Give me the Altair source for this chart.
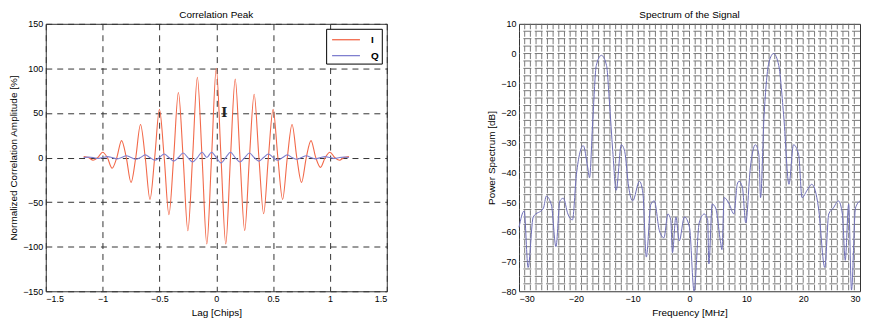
import altair as alt
import pandas as pd

# ---------------- Left panel data ----------------
lag = [k / 24 for k in range(-28, 29)]
i_vals = [1, 0, -3, 0, 6, 0, -12, 0, 19, 0, -28, 0, 37, 0, -47, 0, 54, 0, -64, 0,
          73, 0, -82, 0, 90, 0, -97, 0, 100, 0, -97, 0, 88, 0, -82, 0, 71, 0, -63, 0,
          54, 0, -47, 0, 37, 0, -28, 0, 19, 0, -11, 0, 6, 0, -3, 0, 1]
q_vals = [0, 0.5, 0, -1, 0, 1, 0, -1.5, 0, 2, 0, -2, 0, 3, 0, -3, 0, 4, 0, -4,
          0, 5, 0, -5, 0, 6, 0, 6, 0, -6, 0, 6, 0, -5, 0, 5, 0, -4, 0, 4,
          0, -3, 0, 3, 0, -2, 0, 2, 0, -1.5, 0, 1, 0, -1, 0, 0.5, 0]

series_names = ["I", "Q"]
series_colors = ["#f2694a", "#7f7fcf"]

# ---------------- Right panel data ----------------
freq = [-30, -29.1, -28.4, -27.5, -25.7, -25.2, -24.3, -23.5, -22.8, -22.2, -21.4, -20.6,
        -19.9, -18.7, -17.9, -17.6, -17.0, -16.4, -15.5, -14.6, -14.1, -13.5, -12.9,
        -12.0, -11.4, -10.7, -10.0, -8.8, -8.2, -7.6, -6.8, -6.2, -5.3, -4.5, -3.8, -3.3,
        -3.0, -2.4, -1.8, -0.9, 0.0, 0.8, 1.7, 2.6, 3.2, 3.4, 4.0, 4.6, 5.5, 5.7, 6.1,
        7.0, 7.8, 8.4, 8.7, 9.3, 9.9, 10.7, 11.6, 12.2, 12.5, 13.1, 14.0, 14.8, 15.7,
        16.6, 17.5, 18.3, 19.2, 19.8, 20.7, 21.5, 22.1, 22.7, 23.8, 24.5, 25.3, 26.2,
        26.9, 27.4, 28.0, 28.5, 29.2, 30]
power = [-58.5, -53, -72, -55, -52, -48, -51, -65, -49.6, -48.7, -54, -56,
         -40.7, -31, -38.5, -41.8, -21.7, -4, -0.6, -4, -16, -33, -46,
         -30.7, -33, -45, -49.6, -43, -47, -68.5, -50.7, -49.6, -59.6, -62, -54, -56,
         -67, -55, -63, -55, -58.5, -80, -57, -54, -56, -70.8, -50.7, -52, -64, -66, -48.5,
         -50.7, -54, -44, -43, -45, -57, -38.5, -30.7, -34, -48.5, -21.7, -2.8, 0, -4,
         -21.7, -44, -30.7, -34, -48.5, -46, -44, -46, -52, -72, -54, -52, -49.6,
         -54, -69.6, -50.7, -79.6, -52, -49.6]

freq_ticks = [-30, -20, -10, 0, 10, 20, 30]
power_ticks = [-80, -70, -60, -50, -40, -30, -20, -10, 0, 10]
grid_x_fine = [v for v in range(-29, 30)]
grid_y_fine = [v * 2.5 for v in range(-31, 4)]

FONT = "Liberation Sans"

# ---------------- Left panel ----------------
corr_df = pd.DataFrame({
    "lag": lag * 2,
    "amp": i_vals + q_vals,
    "series": ["I"] * len(lag) + ["Q"] * len(lag),
})

x_left = alt.X("lag:Q", scale=alt.Scale(domain=[-1.5, 1.5], nice=False),
               axis=alt.Axis(values=[-1.5, -1, -0.5, 0, 0.5, 1, 1.5], title="Lag [Chips]",
                             format="~g", grid=True, gridDash=[6, 5], gridColor="#333333",
                             gridOpacity=1, gridWidth=1, ticks=False, domain=False,
                             labelOverlap=False))
y_left = alt.Y("amp:Q", scale=alt.Scale(domain=[-150, 150], nice=False),
               axis=alt.Axis(values=[-150, -100, -50, 0, 50, 100, 150],
                             title="Normalized Correlation Amplitude [%]",
                             grid=True, gridDash=[6, 5], gridColor="#333333",
                             gridOpacity=1, gridWidth=1, ticks=False, domain=False,
                             labelOverlap=False))

lines_left = alt.Chart(corr_df).mark_line(strokeWidth=1.1, interpolate="monotone").encode(
    x=x_left, y=y_left,
    color=alt.Color("series:N", title=None,
                    scale=alt.Scale(domain=series_names, range=series_colors),
                    legend=alt.Legend(orient="none", legendX=282, legendY=5,
                                      symbolType="M-2,0H2", symbolSize=196,
                                      symbolOffset=9, labelOffset=17,
                                      symbolStrokeWidth=1.3,
                                      labelFontSize=10, labelFontWeight="bold",
                                      labelFont=FONT, strokeColor="#000000",
                                      fillColor="#ffffff", padding=3, rowPadding=3,
                                      cornerRadius=0)),
    detail="series:N",
)

cursor_df = pd.DataFrame({"lag": [0.07], "amp": [50], "txt": ["I"]})
cursor = alt.Chart(cursor_df).mark_text(font="DejaVu Serif", fontSize=13,
                                        fontWeight="bold", color="#222222").encode(
    x="lag:Q", y="amp:Q", text="txt:N")

left = alt.layer(lines_left, cursor).properties(
    width=343, height=269,
    title=alt.TitleParams("Correlation Peak", fontSize=10, font=FONT,
                          fontWeight="normal", offset=0),
)

# ---------------- Right panel ----------------
spec_df = pd.DataFrame({"freq": freq, "power": power})
gx_df = pd.DataFrame({"freq": grid_x_fine})
gy_df = pd.DataFrame({"power": grid_y_fine})

x_axis_r = alt.Axis(values=freq_ticks, title="Frequency [MHz]", grid=False, ticks=False,
                    domain=False, labelOverlap=False)
y_axis_r = alt.Axis(values=power_ticks, title="Power Spectrum [dB]", grid=False,
                    ticks=False, domain=False, labelOverlap=False)
x_scale_r = alt.Scale(domain=[-30, 30], nice=False)
y_scale_r = alt.Scale(domain=[-80, 10], nice=False)

vgrid = alt.Chart(gx_df).mark_rule(color="#6a6a6a", strokeWidth=0.9,
                                   strokeDash=[5.5, 2]).encode(
    x=alt.X("freq:Q", scale=x_scale_r, axis=x_axis_r))
hgrid = alt.Chart(gy_df).mark_rule(color="#6a6a6a", strokeWidth=0.9,
                                   strokeDash=[8, 3.4]).encode(
    y=alt.Y("power:Q", scale=y_scale_r, axis=y_axis_r))

spec_line = alt.Chart(spec_df).mark_line(color="#7070b8", strokeWidth=1.0,
                                         interpolate="monotone").encode(
    x=alt.X("freq:Q", scale=x_scale_r, axis=x_axis_r),
    y=alt.Y("power:Q", scale=y_scale_r, axis=y_axis_r))

right = alt.layer(vgrid, hgrid, spec_line).properties(
    width=343, height=269,
    title=alt.TitleParams("Spectrum of the Signal", fontSize=10, font=FONT,
                          fontWeight="normal", offset=0),
)

chart = alt.hconcat(left, right, spacing=99).resolve_legend(
    color="independent"
).configure(
    padding=0, background="white"
).configure_view(
    stroke="#333333", strokeWidth=1
).configure_axis(
    labelFont=FONT, titleFont=FONT, labelFontSize=9, titleFontSize=10,
    labelColor="#000000", titleColor="#000000", titleFontWeight="normal",
    labelPadding=3, titlePadding=4,
)

chart.save("out.html", embed_options={"renderer": "svg", "actions": False})
